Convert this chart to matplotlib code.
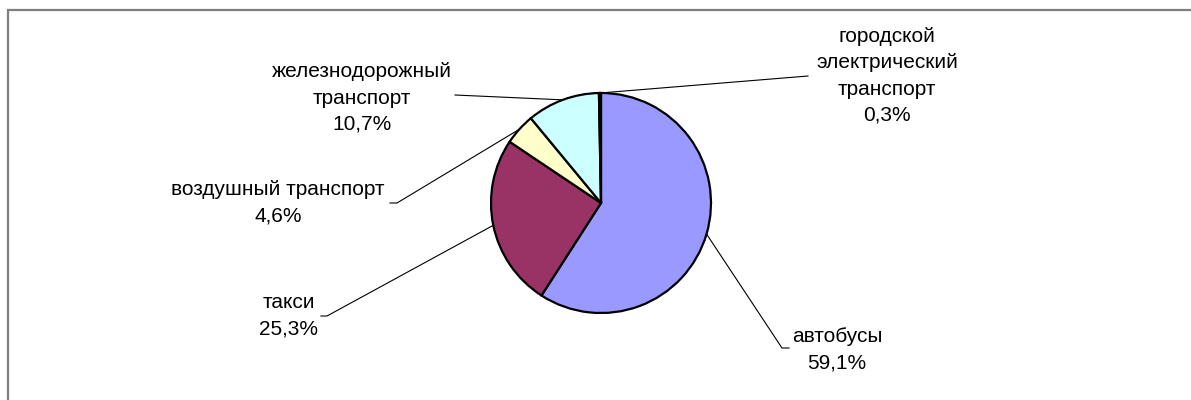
import numpy as np
import matplotlib.pyplot as plt
from matplotlib.patches import Rectangle

plt.rcParams['font.family'] = ['Liberation Sans', 'DejaVu Sans']

# данные диаграммы
categories = ['автобусы', 'такси', 'воздушный транспорт',
              'железнодорожный\nтранспорт', 'городской\nэлектрический\nтранспорт']
shares = [59.1, 25.3, 4.6, 10.7, 0.3]
colors = ['#9999FF', '#993366', '#FFFFCC', '#CCFFFF', '#660066']

# расположение подписей (в пикселях, ось y вверх) и изломы выносок
label_pos = [(837, 50), (289, 84), (278, 197), (362, 302), (887, 324)]
elbows = [[(782, 52), (789, 52)],
          [(327, 84), (321, 84)],
          [(397, 197), (390, 197)],
          [(455, 305)],
          [(808, 324)]]

W, H = 1191, 400
fig = plt.figure(figsize=(W / 100, H / 100), dpi=100)
ax = fig.add_axes([0, 0, 1, 1])

# рамка области диаграммы
fig.patches.append(Rectangle((8 / W, -0.1), 1.2, 1.1 - 10 / H,
                             transform=fig.transFigure, fill=False,
                             edgecolor='#7f7f7f', linewidth=1.6))

cx, cy, r = 601, 197, 110
wedges, _ = ax.pie(shares, colors=colors, startangle=90, counterclock=False,
                   center=(cx, cy), radius=r, frame=True,
                   wedgeprops=dict(edgecolor='black', linewidth=1.6))
ax.set_xlim(0, W)
ax.set_ylim(0, H)
ax.axis('off')

for w, name, val, pos, pts in zip(wedges, categories, shares, label_pos, elbows):
    ang = np.deg2rad((w.theta1 + w.theta2) / 2)
    x0 = cx + r * np.cos(ang)
    y0 = cy + r * np.sin(ang)
    xs = [x0] + [p[0] for p in pts]
    ys = [y0] + [p[1] for p in pts]
    ax.plot(xs, ys, color='black', linewidth=0.8)
    txt = name + '\n' + f'{val:.1f}%'.replace('.', ',')
    ax.text(pos[0], pos[1], txt, ha='center', va='center', fontsize=15,
            linespacing=1.47, multialignment='center')

fig.savefig('out.png', dpi=100, facecolor='white')
